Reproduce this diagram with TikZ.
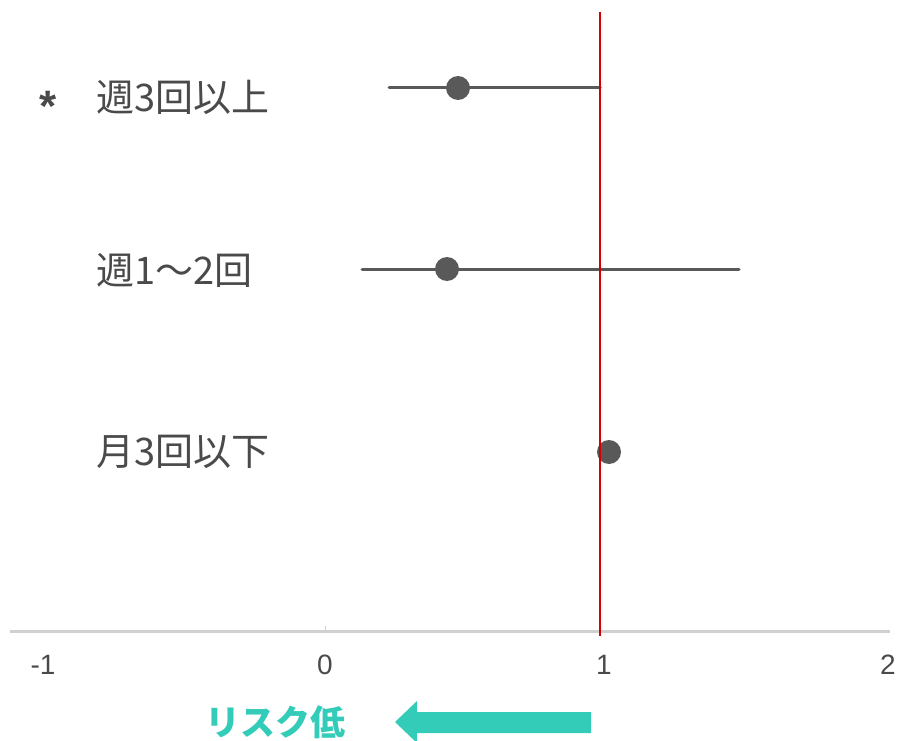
\documentclass[tikz,border=0pt]{standalone}
\usepackage{fontspec}
\setmainfont{Liberation Sans}
\newfontfamily\jpfont{Noto Sans CJK JP}
\usetikzlibrary{arrows.meta}

\definecolor{dotgray}{HTML}{595959}
\definecolor{labgray}{HTML}{4A4A4A}
\definecolor{axisgray}{HTML}{D0D0D0}
\definecolor{refred}{HTML}{D40000}
\definecolor{riskteal}{HTML}{33CCB9}

\begin{document}
\begin{tikzpicture}[x=1pt, y=-1pt,
lbl/.style={font=\jpfont\fontsize{38}{38}\selectfont, text=labgray, anchor=west, inner sep=0},
ticklbl/.style={font=\fontsize{28}{28}\selectfont, text=labgray, inner sep=0},
dot/.style={circle, fill=dotgray, minimum size=24pt, inner sep=0},
whisker/.style={draw=dotgray, line width=3pt, line cap=round}
]
\useasboundingbox (0,0) rectangle (900,741);

% axis
\draw[axisgray, line width=3pt] (10,631) -- (890,631);
\draw[axisgray, line width=1pt] (325,626) -- (325,631);
\node[ticklbl] (tm1) at (43,665) {-1};
\node[ticklbl] (t0) at (325,665) {0};
\node[ticklbl] (t1) at (604,665) {1};
\node[ticklbl] (t2) at (888,665) {2};

% rows
\node[lbl] (r1) at (96,97) {週3回以上};
\node[font=\bfseries\fontsize{44}{44}\selectfont, text=labgray, inner sep=0] (star) at (48,106) {*};
\node[lbl] (r2) at (96,270) {週1〜2回};
\node[lbl] (r3) at (96,452) {月3回以下};

\coordinate (lo1) at (389,88);
\coordinate (hi1) at (600,88);
\coordinate (lo2) at (362,269);
\coordinate (hi2) at (739,269);
\path[whisker] (lo1) -- (hi1);
\path[whisker] (lo2) -- (hi2);
\node[dot] (d1) at (458,88) {};
\node[dot] (d2) at (447,269) {};
\node[dot] (d3) at (609,452) {};

% reference line
\coordinate (reftop) at (600,12);
\coordinate (refbot) at (600,636);
\draw[refred, line width=2pt] (reftop) -- (refbot);

% risk arrow
\node[font=\jpfont\bfseries\fontsize{35}{35}\selectfont, text=riskteal, inner sep=0] (risk) at (275,722) {リスク低};
\fill[riskteal] (591,712) -- (417,712) -- (417,701) -- (395,722) -- (417,743) -- (417,733) -- (591,733) -- cycle;
\end{tikzpicture}
\end{document}
